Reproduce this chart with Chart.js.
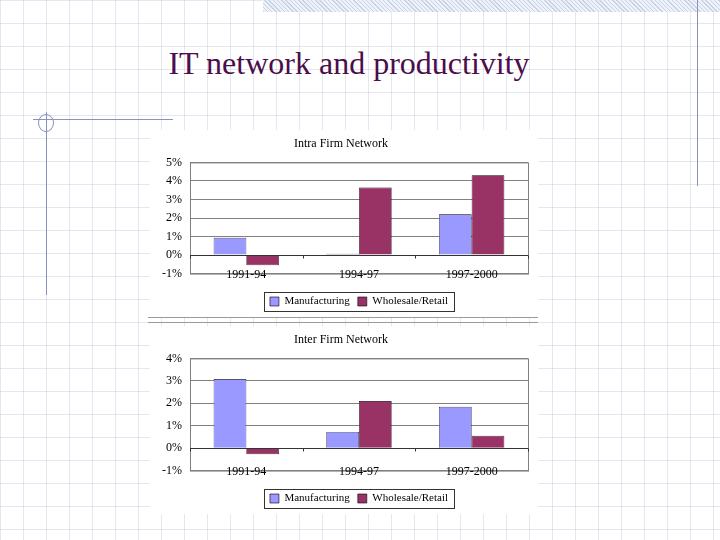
<!DOCTYPE html>
<html>
<head>
<meta charset="utf-8">
<script src="https://cdn.jsdelivr.net/npm/chart.js@4.4.0/dist/chart.umd.min.js"></script>
<style>
    html, body { margin: 0; padding: 0; }
    body {
        width: 720px; height: 540px; position: relative; overflow: hidden;
        background-color: #fff;
        background-image:
            repeating-linear-gradient(to right, rgba(170,175,200,0.3) 0 1px, transparent 1px 23px),
            repeating-linear-gradient(to bottom, rgba(170,175,200,0.3) 0 1px, transparent 1px 23px);
        font-family: "Liberation Serif", serif;
    }
    .band {
        position: absolute; left: 263px; top: 0; width: 457px; height: 12px;
        background: repeating-linear-gradient(45deg, #c9d3e8 0 1px, #eef1f8 1px 3px);
    }
    .vline { position: absolute; background: #8a93c0; }
    .ring {
        position: absolute; left: 38px; top: 114px; width: 14px; height: 16px;
        border: 1px solid #8a93c0; border-radius: 50%;
    }
    h1 {
        position: absolute; left: 168px; width: 362px; top: 45px; margin: 0;
        text-align: center; font-weight: normal; font-size: 32px; color: #4b0e4b;
        font-family: "Liberation Serif", serif; white-space: nowrap;
    }
    .box { position: absolute; left: 150px; width: 388px; background: #fff; }
    .sep { position: absolute; left: 148px; width: 390px; height: 1px; background: #999; }
</style>
</head>
<body>
<div class="band"></div>
<div class="vline" style="left:697px; top:0; width:1px; height:186px;"></div>
<div class="vline" style="left:33px; top:119px; width:140px; height:1px;"></div>
<div class="vline" style="left:46px; top:112px; width:1px; height:183px;"></div>
<div class="ring"></div>
<h1>IT network and productivity</h1>

<div class="box" style="top:130px; height:187px;"><canvas id="intraChart"></canvas></div>
<div class="sep" style="top:317px;"></div>
<div class="sep" style="top:322px;"></div>
<div class="box" style="top:326px; height:188px;"><canvas id="interChart"></canvas></div>

<script>
const periods = ['1991-94', '1994-97', '1997-2000'];
const seriesNames = ['Manufacturing', 'Wholesale/Retail'];

// values in percent
const intraManufacturing = [0.93, 0.07, 2.2];
const intraWholesale = [-0.55, 3.64, 4.3];
const interManufacturing = [3.08, 0.72, 1.84];
const interWholesale = [-0.27, 2.1, 0.55];

const COLOR_MANU = '#9999ff';
const COLOR_WHOLE = '#993366';
const FONT = 'Liberation Serif';

// frame around plot, dark zero line, category ticks and labels, legend box
const framePlugin = {
    id: 'frame',
    afterLayout(chart) {
        // center the legend under the plot area instead of the whole canvas
        const lg = chart.legend;
        const area = chart.chartArea;
        const shift = (area.left + area.right) / 2 - (lg.left + lg.right) / 2;
        lg.left += shift;
        lg.right += shift;
        (lg.legendHitBoxes || []).forEach(b => { b.left += shift; });
    },
    afterDraw(chart) {
        const ctx = chart.ctx;
        const area = chart.chartArea;
        const x = chart.scales.x;
        const y = chart.scales.y;
        ctx.save();
        ctx.strokeStyle = '#808080';
        ctx.lineWidth = 1;
        ctx.strokeRect(area.left + 0.5, area.top + 0.5, area.right - area.left, area.bottom - area.top);

        const zero = Math.round(y.getPixelForValue(0)) + 0.5;
        ctx.strokeStyle = '#333';
        ctx.beginPath();
        ctx.moveTo(area.left, zero);
        ctx.lineTo(area.right, zero);
        const step = x.getPixelForValue(1) - x.getPixelForValue(0);
        for (let i = 0; i <= periods.length; i++) {
            const px = Math.round(x.getPixelForValue(i) - step / 2) + 0.5;
            ctx.moveTo(px, zero);
            ctx.lineTo(px, zero + 3);
        }
        ctx.stroke();

        // category labels sit on the bottom edge of the plot, as in the original
        ctx.fillStyle = '#000';
        ctx.font = '12px "' + FONT + '"';
        ctx.textAlign = 'center';
        ctx.textBaseline = 'middle';
        periods.forEach((p, i) => ctx.fillText(p, x.getPixelForValue(i), area.bottom + 1));

        const boxes = chart.legend.legendHitBoxes;
        if (boxes && boxes.length) {
            const left = Math.min(...boxes.map(b => b.left)) - 6;
            const right = Math.max(...boxes.map(b => b.left + b.width)) + 6;
            const top = Math.min(...boxes.map(b => b.top)) - 4;
            const bottom = Math.max(...boxes.map(b => b.top + b.height)) + 4;
            ctx.strokeStyle = '#333';
            ctx.strokeRect(Math.round(left) + 0.5, Math.round(top) + 0.5, Math.round(right - left), Math.round(bottom - top));
        }
        ctx.restore();
    }
};

function makeChart(canvasId, title, manuValues, wholeValues, yMax) {
    const ctx = document.getElementById(canvasId).getContext('2d');
    return new Chart(ctx, {
        type: 'bar',
        data: {
            labels: periods,
            datasets: [{
                label: seriesNames[0],
                data: manuValues,
                backgroundColor: COLOR_MANU,
                borderColor: '#000',
                borderWidth: 0.6
            }, {
                label: seriesNames[1],
                data: wholeValues,
                backgroundColor: COLOR_WHOLE,
                borderColor: '#000',
                borderWidth: 0.6
            }]
        },
        options: {
            responsive: true,
            maintainAspectRatio: false,
            animation: false,
            layout: { padding: { left: 4, right: 10, top: 2, bottom: 0 } },
            categoryPercentage: 0.58,
            barPercentage: 1,
            plugins: {
                title: {
                    display: true,
                    text: title,
                    color: '#000',
                    font: { family: FONT, size: 12, weight: 'normal' },
                    padding: { top: 5, bottom: 11 }
                },
                legend: {
                    position: 'bottom',
                    labels: {
                        color: '#000',
                        boxWidth: 9,
                        boxHeight: 9,
                        padding: 8,
                        font: { family: FONT, size: 11 }
                    }
                },
                tooltip: { enabled: false }
            },
            scales: {
                y: {
                    min: -1,
                    max: yMax,
                    ticks: {
                        stepSize: 1,
                        autoSkip: false,
                        color: '#000',
                        padding: 8,
                        font: { family: FONT, size: 12 },
                        callback: value => value + '%'
                    },
                    grid: { color: '#808080', drawTicks: false },
                    border: { display: false }
                },
                x: {
                    // labels are drawn by framePlugin; ticks here only reserve the gap
                    ticks: {
                        color: 'rgba(0,0,0,0)',
                        padding: -4,
                        font: { family: FONT, size: 12 }
                    },
                    grid: { display: false },
                    border: { display: false }
                }
            }
        },
        plugins: [framePlugin]
    });
}

makeChart('intraChart', 'Intra Firm Network', intraManufacturing, intraWholesale, 5);
makeChart('interChart', 'Inter Firm Network', interManufacturing, interWholesale, 4);
</script>
</body>
</html>
